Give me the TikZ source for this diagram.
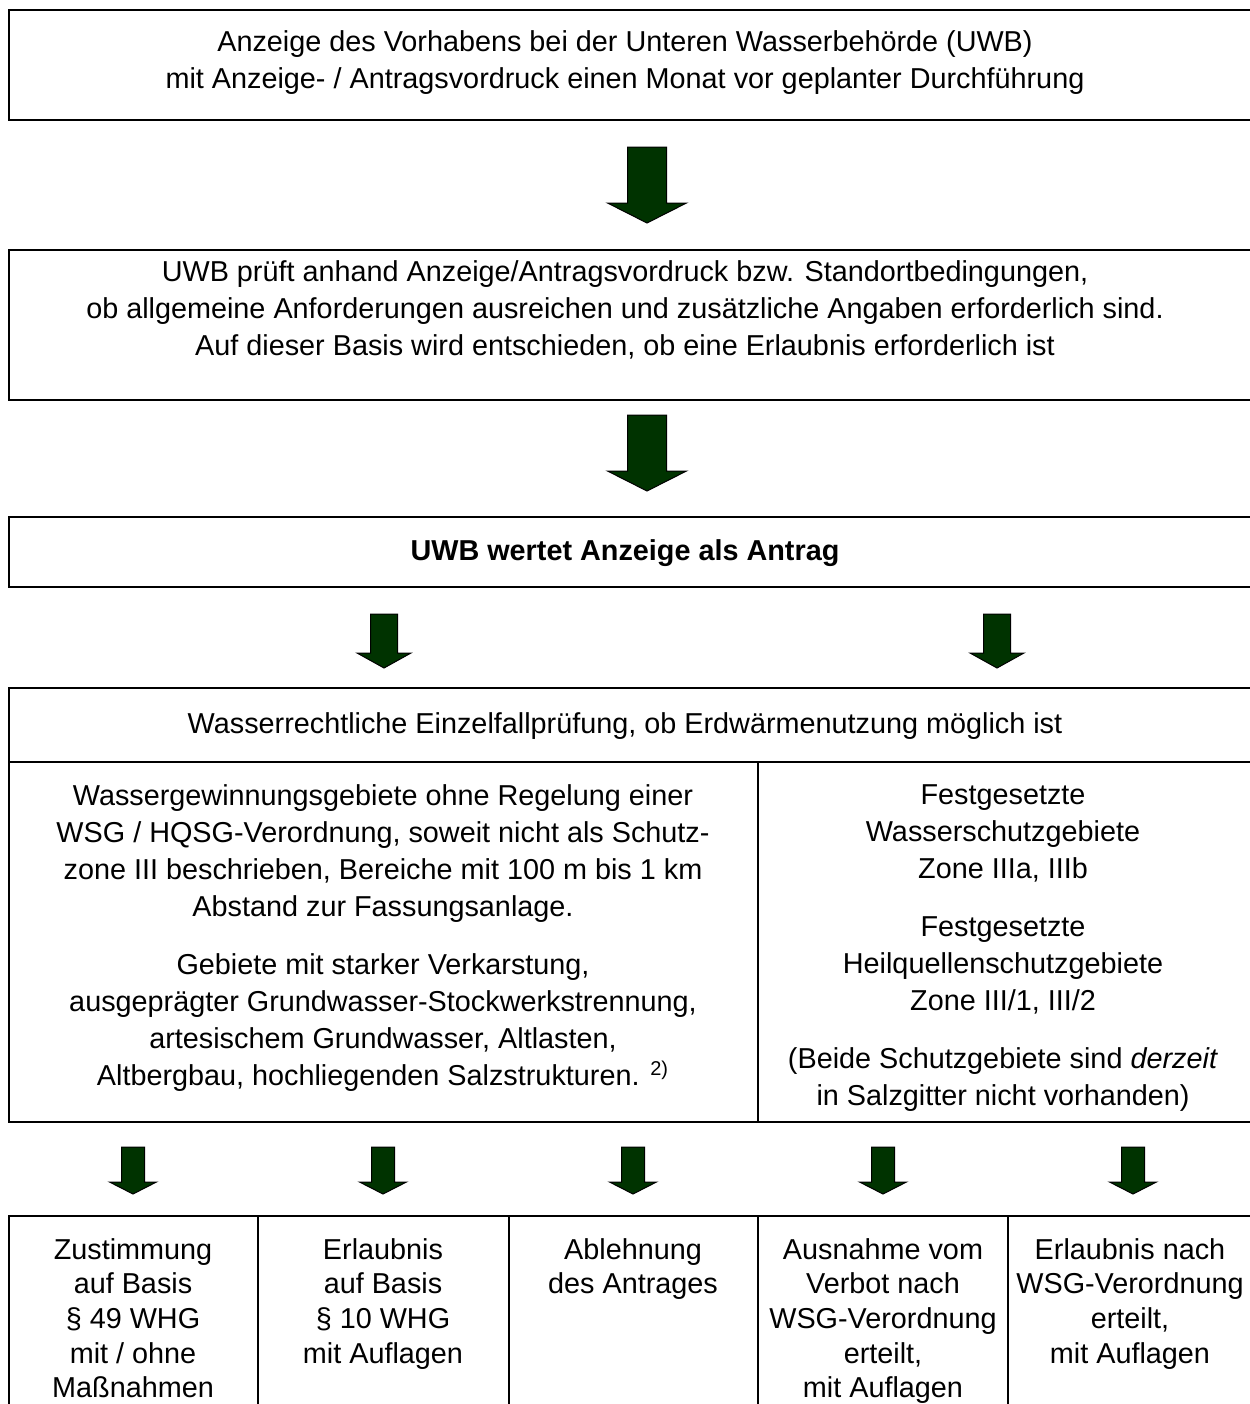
\documentclass[tikz,border=0pt]{standalone}
\usepackage{fontspec}
\setmainfont{Liberation Sans}
\usepackage{tikz}
\usetikzlibrary{positioning}
\definecolor{arrowgreen}{RGB}{0,51,0}
\tikzset{
	box/.style={line width=1.3pt},
	txt/.style={align=center, inner sep=0pt, font=\fontsize{14.4}{18.5}\selectfont},
	smalltxt/.style={align=center, inner sep=0pt, anchor=north, font=\fontsize{14.4}{17.3}\selectfont},
	pics/blockarrow/.style n args={4}{code={
		\filldraw[fill=arrowgreen, draw=black, line width=0.5pt, line join=miter]
			(-#1,0) -- (#1,0) -- (#1,{#3-#4}) -- (#2,{#3-#4}) -- (0,#3)
			-- (-#2,{#3-#4}) -- (-#1,{#3-#4}) -- cycle;
	}}
}

\begin{document}
\begin{tikzpicture}[x=0.5pt, y=-0.5pt]
	\useasboundingbox (0,0) rectangle (1249,1404);

	\draw[box] (9,10) rectangle (1262,120);
	\node[txt] (anzeige) at (625,62.5) {Anzeige des Vorhabens bei der Unteren Wasserbehörde (UWB)\\
		mit Anzeige- / Antragsvordruck einen Monat vor geplanter Durchführung};
	\pic at (647,147) {blockarrow={19.5}{39.5}{76}{20}};

	\draw[box] (9,250) rectangle (1262,400);
	\node[txt] (pruefung) at (625,310) {UWB prüft anhand Anzeige/Antragsvordruck bzw. Standortbedingungen,\\
		ob allgemeine Anforderungen ausreichen und zusätzliche Angaben erforderlich sind.\\
		Auf dieser Basis wird entschieden, ob eine Erlaubnis erforderlich ist};
	\pic at (647,415) {blockarrow={19.5}{39.5}{76}{20}};

	\draw[box] (9,517) rectangle (1262,587);
	\node[txt, font=\fontsize{14.4}{18.5}\selectfont\bfseries] (antrag) at (625,553) {UWB wertet Anzeige als Antrag};
	\foreach \x in {384, 997}
		\pic at (\x,614) {blockarrow={13.5}{27}{54}{15}};

	\draw[box] (9,688) rectangle (1262,1122);
	\draw[box] (9,762) -- (1262,762);
	\draw[box] (758,762) -- (758,1122);
	\node[txt] (einzelfall) at (625,726) {Wasserrechtliche Einzelfallprüfung, ob Erdwärmenutzung möglich ist};
	\node[txt] (gebiete) at (383,938) {Wassergewinnungsgebiete ohne Regelung einer\\
		WSG / HQSG-Verordnung, soweit nicht als Schutz-\\
		zone III beschrieben, Bereiche mit 100 m bis 1 km\\
		Abstand zur Fassungsanlage.\\[10.5pt]
		Gebiete mit starker Verkarstung,\\
		ausgeprägter Grundwasser-Stockwerkstrennung,\\
		artesischem Grundwasser, Altlasten,\\
		Altbergbau, hochliegenden Salzstrukturen. \textsuperscript{2)}};
	\node[txt] (schutz) at (1003,948) {Festgesetzte\\
		Wasserschutzgebiete\\
		Zone IIIa, IIIb\\[10.5pt]
		Festgesetzte\\
		Heilquellenschutzgebiete\\
		Zone III/1, III/2\\[10.5pt]
		(Beide Schutzgebiete sind \textit{derzeit}\\
		in Salzgitter nicht vorhanden)};

	\foreach \x in {133, 383, 633, 883, 1133}
		\pic at (\x,1147) {blockarrow={11.5}{23.5}{47}{12}};

	\draw[box] (9,1216) rectangle (1262,1420);
	\foreach \x in {258, 509, 758, 1008}
		\draw[box] (\x,1216) -- (\x,1420);
	\node[smalltxt] (zustimmung) at (133,1238) {Zustimmung\\ auf Basis\\ § 49 WHG\\ mit / ohne\\ Maßnahmen};
	\node[smalltxt] (erlaubnis) at (383,1238) {Erlaubnis\\ auf Basis\\ § 10 WHG\\ mit Auflagen};
	\node[smalltxt] (ablehnung) at (633,1238) {Ablehnung\\ des Antrages};
	\node[smalltxt] (ausnahme) at (883,1238) {Ausnahme vom\\ Verbot nach\\ WSG-Verordnung\\ erteilt,\\ mit Auflagen};
	\node[smalltxt] (wsgerlaubnis) at (1130,1238) {Erlaubnis nach\\ WSG-Verordnung\\ erteilt,\\ mit Auflagen};
\end{tikzpicture}
\end{document}
